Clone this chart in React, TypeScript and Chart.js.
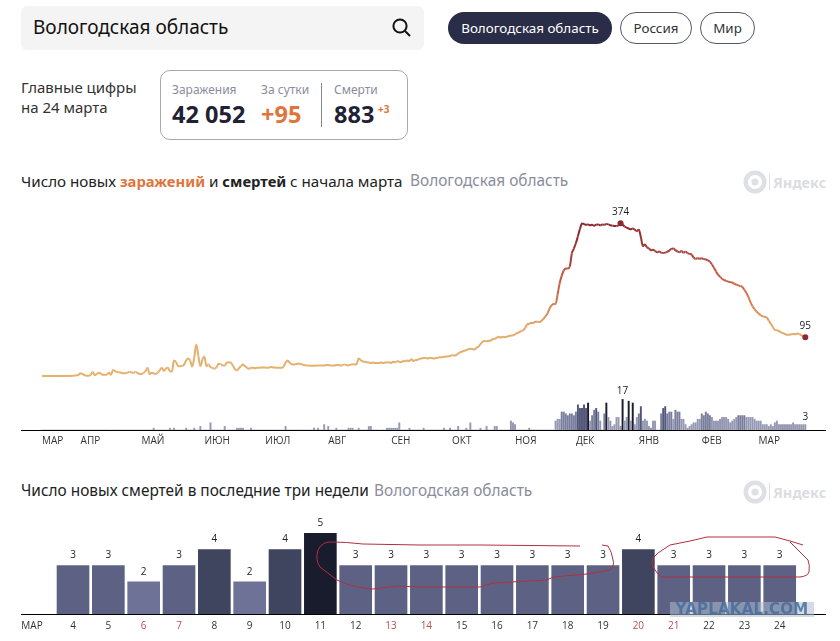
import React, { useEffect, useRef } from "react";
import { Chart, registerables } from "chart.js";

Chart.register(...registerables);

// Daily new infections, from about 13 March of the first year to 24 March of the next
const infections: number[] = [
  0,0,0,0,0,0,0,0,0,0,
  0,0,0,0,0,1,1,2,3,7,
  5,2,1,1,3,10,2,5,8,6,
  3,3,4,8,3,15,12,10,9,8,
  7,7,8,10,9,8,10,8,5,5,
  8,12,20,5,8,7,5,8,14,20,
  13,18,20,12,11,38,34,25,24,25,
  28,38,43,38,23,45,77,50,24,40,
  48,24,28,22,20,18,22,30,29,26,
  25,33,34,33,26,17,14,19,24,28,
  24,20,18,20,20,19,20,20,21,21,
  21,20,21,22,21,21,20,20,20,23,
  33,38,33,29,28,29,30,30,29,27,
  26,26,25,25,25,26,26,26,26,26,
  27,27,26,26,26,27,27,26,27,28,
  27,26,28,29,28,30,43,39,36,35,
  34,33,32,33,32,32,32,33,32,33,
  33,34,32,35,34,36,35,34,37,36,
  38,37,41,37,39,40,42,43,44,44,
  43,44,44,43,44,45,46,46,47,48,
  48,49,51,50,51,55,58,60,62,63,
  66,67,66,65,69,72,78,84,86,85,
  86,87,90,91,94,96,94,96,95,96,
  98,99,100,102,105,107,110,112,118,126,
  128,130,130,133,133,132,135,140,146,153,
  165,173,176,176,200,227,245,258,263,263,
  268,300,312,325,342,360,373,372,370,371,
  369,370,368,370,371,369,371,370,372,371,
  369,368,367,367,369,374,370,366,363,361,
  359,361,358,355,358,340,318,322,315,312,
  308,309,306,303,305,302,301,302,304,307,
  311,312,308,305,303,306,302,304,301,299,
  297,290,287,288,287,288,286,285,283,280,
  273,265,256,248,243,238,235,233,231,230,
  229,226,224,222,220,218,211,203,193,181,
  171,164,158,153,149,146,145,143,136,128,
  120,113,112,110,107,105,103,101,101,102,
  103,102,104,103,100,98,95,
];

// Daily new deaths, same days
const deaths: number[] = [
  0,0,0,0,0,0,0,0,0,0,
  0,0,0,0,0,0,0,0,0,0,
  0,0,0,0,0,0,0,0,0,0,
  0,0,0,0,0,0,0,0,0,0,
  0,0,0,0,0,0,0,0,0,0,
  0,0,0,0,0,1,0,0,0,0,
  0,0,0,1,0,1,0,0,0,0,
  0,1,0,0,0,1,0,0,2,0,
  0,0,0,4,0,0,0,0,0,0,
  2,0,0,0,0,0,1,1,1,1,
  0,0,0,1,0,0,0,0,0,0,
  0,0,0,0,0,0,0,0,0,0,
  2,0,0,0,0,0,0,0,0,0,
  0,0,0,0,1,0,1,0,0,3,
  0,2,0,0,0,1,0,0,0,0,
  0,1,1,1,0,0,1,0,0,0,
  0,2,2,0,0,0,0,0,0,0,
  1,1,1,1,1,1,4,0,0,0,
  0,1,0,0,0,0,0,0,1,0,
  0,0,0,0,0,0,0,0,1,0,
  0,1,0,0,0,2,0,0,0,1,
  0,4,0,0,0,0,1,0,0,2,
  0,0,0,2,2,0,0,0,0,0,
  0,5,4,3,0,0,0,0,0,0,
  1,0,0,0,0,0,0,0,0,0,
  0,0,0,5,6,6,10,10,9,8,
  9,9,8,10,14,12,12,14,12,15,
  5,8,11,12,10,5,0,9,15,7,
  5,2,3,7,7,2,17,5,7,16,
  5,15,3,7,9,13,5,6,5,2,
  1,5,5,0,0,9,12,13,9,10,
  10,6,11,10,10,6,6,3,1,2,
  3,4,4,6,6,9,8,10,9,8,
  7,5,5,5,6,7,7,7,6,4,
  5,6,7,8,8,8,8,7,7,7,
  7,6,5,5,5,3,3,3,2,3,
  2,4,5,3,3,3,3,3,3,3,
  4,3,3,3,3,3,3,
];

const monthLabels = ["МАР","АПР","МАЙ","ИЮН","ИЮЛ","АВГ","СЕН","ОКТ","НОЯ","ДЕК","ЯНВ","ФЕВ","МАР"];
const monthStarts = [0, 19, 49, 80, 110, 141, 172, 202, 233, 263, 294, 325, 353];

// Last three weeks
const recentDays = [4,5,6,7,8,9,10,11,12,13,14,15,16,17,18,19,20,21,22,23,24];
const recentDeaths = [3,3,2,3,4,2,4,5,3,3,3,3,3,3,3,3,4,3,3,3,3];
const holidayDays = [6,7,13,14,20,21];
const recentMonthLabel = "МАР";

const UI_FONT = '"Noto Sans", sans-serif';
const TICK_FONT = '"Open Sans", sans-serif';

const lineStops: [number, number[]][] = [
  [0, [229, 178, 111]],
  [110, [228, 172, 108]],
  [170, [217, 130, 82]],
  [260, [190, 84, 66]],
  [330, [150, 48, 52]],
  [374, [140, 42, 50]],
];
function lineColor(v: number): string {
  for (let i = 1; i < lineStops.length; i++) {
    const [a, ca] = lineStops[i - 1];
    const [b, cb] = lineStops[i];
    if (v <= b) {
      const t = Math.max(0, (v - a) / (b - a));
      return `rgb(${ca.map((c, k) => Math.round(c + (cb[k] - c) * t)).join(",")})`;
    }
  }
  return "rgb(140,42,50)";
}
function miniBarColor(v: number): string {
  if (v >= 15) return "#1c1e2e";
  if (v >= 12) return "#53577a";
  if (v >= 8) return "#7a7e9c";
  return "#9598b2";
}
const recentColors: Record<number, string> = { 2: "#6d7296", 3: "#5d6285", 4: "#3f445f", 5: "#191c2c" };

type Lbl = { text: string; axis: string; x: number; y: number; dy: number };
function labelPlugin(labels: Lbl[]) {
  return {
    id: "valueLabels",
    afterDatasetsDraw(chart: any) {
      const { ctx, scales } = chart;
      ctx.save();
      ctx.font = `10px ${TICK_FONT}`;
      ctx.fillStyle = "#222";
      ctx.textAlign = "center";
      ctx.textBaseline = "middle";
      for (const l of labels) {
        ctx.fillText(l.text, scales.x.getPixelForValue(l.x), scales[l.axis].getPixelForValue(l.y) - l.dy);
      }
      ctx.restore();
    },
  };
}

function fitAxis(height: number) {
  return (s: any) => {
    s.height = height;
    s.paddingLeft = 0;
    s.paddingRight = 0;
    s.paddingTop = 0;
    s.paddingBottom = 0;
  };
}

function OverviewChart() {
  const ref = useRef<HTMLCanvasElement>(null);
  useEffect(() => {
    const peak = infections.indexOf(Math.max(...infections));
    const last = infections.length - 1;
    const deathPeak = deaths.indexOf(Math.max(...deaths));
    const chart = new Chart(ref.current!, {
      type: "bar",
      data: {
        datasets: [
          {
            type: "line",
            data: infections.map((y, x) => ({ x, y })),
            yAxisID: "y",
            borderWidth: 2,
            cubicInterpolationMode: "monotone",
            segment: { borderColor: (c: any) => lineColor(c.p1.parsed.y) },
            borderColor: "#e5b26f",
            pointRadius: (c: any) => (c.dataIndex === peak || c.dataIndex === last ? 3 : 0),
            pointBackgroundColor: "#8c2a32",
            pointBorderWidth: 0,
          } as any,
          {
            type: "bar",
            data: deaths.map((y, x) => ({ x, y })),
            yAxisID: "y2",
            barThickness: 1.3,
            backgroundColor: deaths.map(miniBarColor),
            borderWidth: 0,
          } as any,
        ],
      },
      options: {
        responsive: false,
        animation: false,
        events: [],
        layout: { padding: 0, autoPadding: false },
        plugins: { legend: { display: false }, tooltip: { enabled: false } },
        scales: {
          x: {
            type: "linear",
            offset: false,
            min: -10.34,
            max: 386.2,
            grid: { display: false, drawTicks: false },
            border: { color: "#000", width: 1 },
            afterFit: fitAxis(20),
            afterBuildTicks: (s: any) => { s.ticks = monthStarts.map((value) => ({ value })); },
            afterTickToLabelConversion: (s: any) => { s.ticks.forEach((t: any, i: number) => { t.label = monthLabels[i]; }); },
            ticks: {
              autoSkip: false,
              maxRotation: 0,
              align: "start",
              padding: 5,
              color: "#333",
              font: { family: TICK_FONT, size: 10 },
            },
          },
          y: { display: false, min: -132, max: 418.5 },
          y2: { display: false, min: 0, max: 125 },
        },
      } as any,
      plugins: [
        labelPlugin([
          { text: String(infections[peak]), axis: "y", x: peak, y: infections[peak], dy: 11 },
          { text: String(infections[last]), axis: "y", x: last, y: infections[last], dy: 11 },
          { text: String(deaths[deathPeak]), axis: "y2", x: deathPeak, y: deaths[deathPeak], dy: 8 },
          { text: String(deaths[last]), axis: "y2", x: last, y: deaths[last], dy: 7 },
        ]),
      ] as any,
    });
    return () => chart.destroy();
  }, []);
  return <canvas ref={ref} width={805} height={245} style={{ position: "absolute", left: 21, top: 205, display: "block" }} />;
}

function RecentChart() {
  const ref = useRef<HTMLCanvasElement>(null);
  useEffect(() => {
    const monthTick = 2.84;
    const chart = new Chart(ref.current!, {
      type: "bar",
      data: {
        datasets: [
          {
            data: recentDays.map((x, i) => ({ x, y: recentDeaths[i] })),
            barThickness: 32,
            backgroundColor: recentDeaths.map((v) => recentColors[v]),
            borderWidth: 0,
          },
        ],
      },
      options: {
        responsive: false,
        animation: false,
        events: [],
        layout: { padding: 0 },
        plugins: { legend: { display: false }, tooltip: { enabled: false } },
        scales: {
          x: {
            type: "linear",
            offset: false,
            min: 2.528,
            max: 25.31,
            grid: { display: false, drawTicks: false },
            border: { color: "#000", width: 1 },
            afterFit: fitAxis(22),
            afterBuildTicks: (s: any) => {
              s.ticks = [{ value: monthTick }, ...recentDays.map((value) => ({ value }))];
            },
            afterTickToLabelConversion: (s: any) => {
              s.ticks.forEach((t: any) => { t.label = t.value === monthTick ? recentMonthLabel : String(t.value); });
            },
            ticks: {
              autoSkip: false,
              maxRotation: 0,
              padding: 6,
              font: { family: TICK_FONT, size: 10 },
              color: (c: any) => (holidayDays.includes(c.tick.value) ? "#b4504f" : "#333"),
            },
          },
          y: { display: false, min: 0, max: 6.14 },
        },
      } as any,
      plugins: [
        labelPlugin(recentDays.map((x, i) => ({ text: String(recentDeaths[i]), axis: "y", x, y: recentDeaths[i], dy: 10 }))),
      ] as any,
    });
    return () => chart.destroy();
  }, []);
  return <canvas ref={ref} width={805} height={121} style={{ position: "absolute", left: 21, top: 515, display: "block" }} />;
}

const abs = (left: number, top: number, extra: React.CSSProperties = {}): React.CSSProperties => ({
  position: "absolute", left, top, whiteSpace: "nowrap", ...extra,
});

function YandexMark({ top }: { top: number }) {
  return (
    <>
      <svg width="24" height="24" style={abs(743, top)}>
        <circle cx="12" cy="12" r="11.5" fill="#dfe0e5" />
        <circle cx="12" cy="12" r="7" fill="#fff" />
        <circle cx="12" cy="12" r="3.6" fill="#dfe0e5" />
      </svg>
      <div style={abs(769, top + 3, { width: 1, height: 18, background: "#dfe0e5" })} />
      <div style={abs(773, top, { font: `700 14.5px/24px ${UI_FONT}`, color: "#dcdde2" })}>Яндекс</div>
    </>
  );
}

function Pill({ left, width, text, active }: { left: number; width: number; text: string; active?: boolean }) {
  return (
    <div style={abs(left, 12, {
      width, height: 32, boxSizing: "border-box", borderRadius: 16,
      border: active ? "none" : "1px solid #55586a",
      background: active ? "#2a2d48" : "#fff",
      color: active ? "#fff" : "#333",
      font: `13.4px/${active ? 32 : 30}px ${UI_FONT}`, textAlign: "center",
    })}>{text}</div>
  );
}

export default function App() {
  const title = { font: `15.4px/20px ${UI_FONT}`, color: "#222" } as React.CSSProperties;
  const grey = { color: "#8a8d9c" };
  const small = { font: `12px/16px ${UI_FONT}`, color: "#8a8d9c" };
  const big = { font: `700 23.5px/28px ${UI_FONT}`, color: "#1f2235" };
  const bold = { fontSize: 14.8 };
  return (
    <div style={{ position: "absolute", left: 0, top: 0, width: 840, height: 641, background: "#fff", overflow: "hidden", fontFamily: UI_FONT }}>
      <div style={abs(21, 6, { width: 403, height: 44, background: "#f4f4f4", borderRadius: 6 })} />
      <div style={abs(33, 6, { font: `19px/42px ${UI_FONT}`, color: "#111" })}>Вологодская область</div>
      <svg width="22" height="22" style={abs(390, 16)}>
        <circle cx="10" cy="10" r="6.6" fill="none" stroke="#111" strokeWidth="2" />
        <line x1="15" y1="15" x2="20" y2="20" stroke="#111" strokeWidth="2" />
      </svg>
      <Pill left={448} width={164} text="Вологодская область" active />
      <Pill left={620} width={72} text="Россия" />
      <Pill left={700} width={55} text="Мир" />

      <div style={abs(21, 77, { font: `15px/20px ${UI_FONT}`, color: "#333" })}>Главные цифры<br />на 24 марта</div>
      <div style={abs(160, 70, { width: 248, height: 70, boxSizing: "border-box", border: "1px solid #a9a9ad", borderRadius: 10 })} />
      <div style={abs(172, 82, small)}>Заражения</div>
      <div style={abs(261, 82, small)}>За сутки</div>
      <div style={abs(334, 82, small)}>Смерти</div>
      <div style={abs(321, 83, { width: 1, height: 44, background: "#888" })} />
      <div style={abs(172, 100, big)}>42 052</div>
      <div style={abs(261, 100, { ...big, color: "#e0743c" })}>+95</div>
      <div style={abs(334, 100, big)}>883</div>
      <div style={abs(378, 102, { font: `700 10px/14px ${UI_FONT}`, color: "#e0743c" })}>+3</div>

      <div style={abs(21, 171, { ...title, fontSize: 15.2, wordSpacing: -0.1 })}>
        Число новых <b style={{ ...bold, color: "#e0743c" }}>заражений</b> и <b style={bold}>смертей</b> с начала марта
      </div>
      <div style={abs(410, 171, { ...title, ...grey })}>Вологодская область</div>
      <YandexMark top={170} />
      <OverviewChart />

      <div style={abs(21, 481, title)}>Число новых смертей в последние три недели</div>
      <div style={abs(374, 481, { ...title, ...grey })}>Вологодская область</div>
      <YandexMark top={480} />
      <RecentChart />

      <svg width="840" height="641" style={abs(0, 0, { pointerEvents: "none" })}>
        <path fill="none" stroke="#b03040" strokeWidth="1"
          d="M580 546 L480 545 L420 545 L363 544 Q345 542 333 542 Q322 541 318 550 Q315 560 320 567 L337 580 Q353 588 373 589 L397 586 L420 587 L480 587 L493 583 L547 580 L553 577 L587 574 L610 570 Q615 565 613 560 Q612 552 608 546 L602 545" />
        <path fill="none" stroke="#b03040" strokeWidth="1"
          d="M803 545 L790 541 L775 537 L707 537 L690 541 L670 545 L658 553 L653 558 Q651 563 653 567 Q657 574 662 577 L800 577 Q808 576 809 572 Q810 565 808 560 L790 542" />
      </svg>
      <div style={abs(670, 602, {
        width: 144, height: 15, background: "rgba(175,190,205,0.55)",
        font: `900 15px/15px "DejaVu Sans", sans-serif`, letterSpacing: 0.2,
        color: "rgba(70,110,160,0.85)", textAlign: "center", overflow: "hidden",
      })}>YAPLAKAL.COM</div>
    </div>
  );
}
